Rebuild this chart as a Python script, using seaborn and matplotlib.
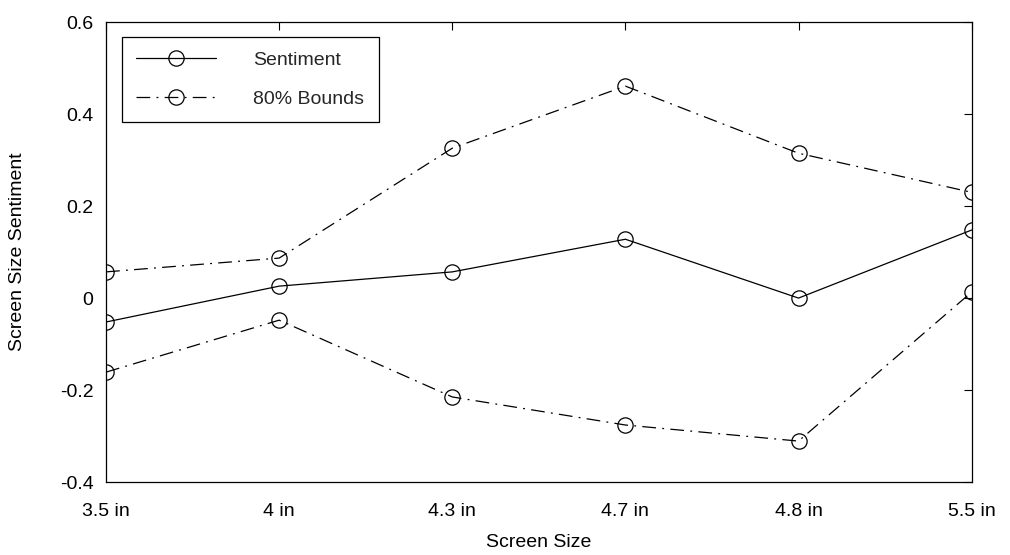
import numpy as np
import pandas as pd
import seaborn as sns
import matplotlib
matplotlib.use("Agg")
import matplotlib.pyplot as plt

sizes = ["3.5 in", "4 in", "4.3 in", "4.7 in", "4.8 in", "5.5 in"]
sentiment = [-0.052, 0.026, 0.057, 0.128, 0.000, 0.148]
upper = [0.057, 0.087, 0.326, 0.461, 0.315, 0.230]
lower = [-0.161, -0.048, -0.215, -0.276, -0.311, 0.013]

sns.set_theme(style="white")
plt.rcParams["font.family"] = ["Liberation Sans", "DejaVu Sans"]

df = pd.DataFrame({"pos": range(len(sizes)), "size": sizes,
                   "sentiment": sentiment, "upper": upper, "lower": lower})

fig = plt.figure(figsize=(10.1, 5.55), dpi=100)
ax = fig.add_axes([0.105, 0.1315, 0.857, 0.8285])

mk = dict(marker="o", markersize=11, markerfacecolor="none",
          markeredgecolor="black", markeredgewidth=0.9)
sns.lineplot(data=df, x="pos", y="sentiment", color="black", lw=0.9,
             ax=ax, label="Sentiment", **mk)
sns.lineplot(data=df, x="pos", y="upper", color="black", lw=0.9,
             ax=ax, label="80% Bounds", **mk)
sns.lineplot(data=df, x="pos", y="lower", color="black", lw=0.9,
             ax=ax, label="_nolegend_", **mk)
for ln in ax.lines[1:]:
    ln.set_dashes((11, 5, 1.5, 5))

ax.set_xlim(0, len(sizes) - 1)
ax.set_ylim(-0.4, 0.6)
ax.set_xticks(range(len(sizes)))
ax.set_xticklabels(sizes)
ax.set_yticks(np.arange(-0.4, 0.61, 0.2))
ax.set_yticklabels(["-0.4", "-0.2", "0", "0.2", "0.4", "0.6"])
ax.tick_params(direction="in", length=6, width=0.8, top=True, right=True,
               labelsize=14, colors="black")
ax.tick_params(axis="x", pad=15)
ax.tick_params(axis="y", pad=9)
for sp in ax.spines.values():
    sp.set_color("black")
    sp.set_linewidth(0.9)
ax.set_xlabel("Screen Size", fontsize=14, color="black", labelpad=10)
ax.set_ylabel("Screen Size Sentiment", fontsize=14, color="black", labelpad=24)

leg = ax.legend(loc="upper left", fontsize=14, frameon=True, fancybox=False,
                edgecolor="black", handlelength=4.1, handletextpad=1.9,
                borderpad=0.75, labelspacing=1.1,
                bbox_to_anchor=(0.007, 0.99))
leg.get_frame().set_linewidth(0.9)
leg.get_frame().set_alpha(1)

fig.savefig("out.png", dpi=100)
